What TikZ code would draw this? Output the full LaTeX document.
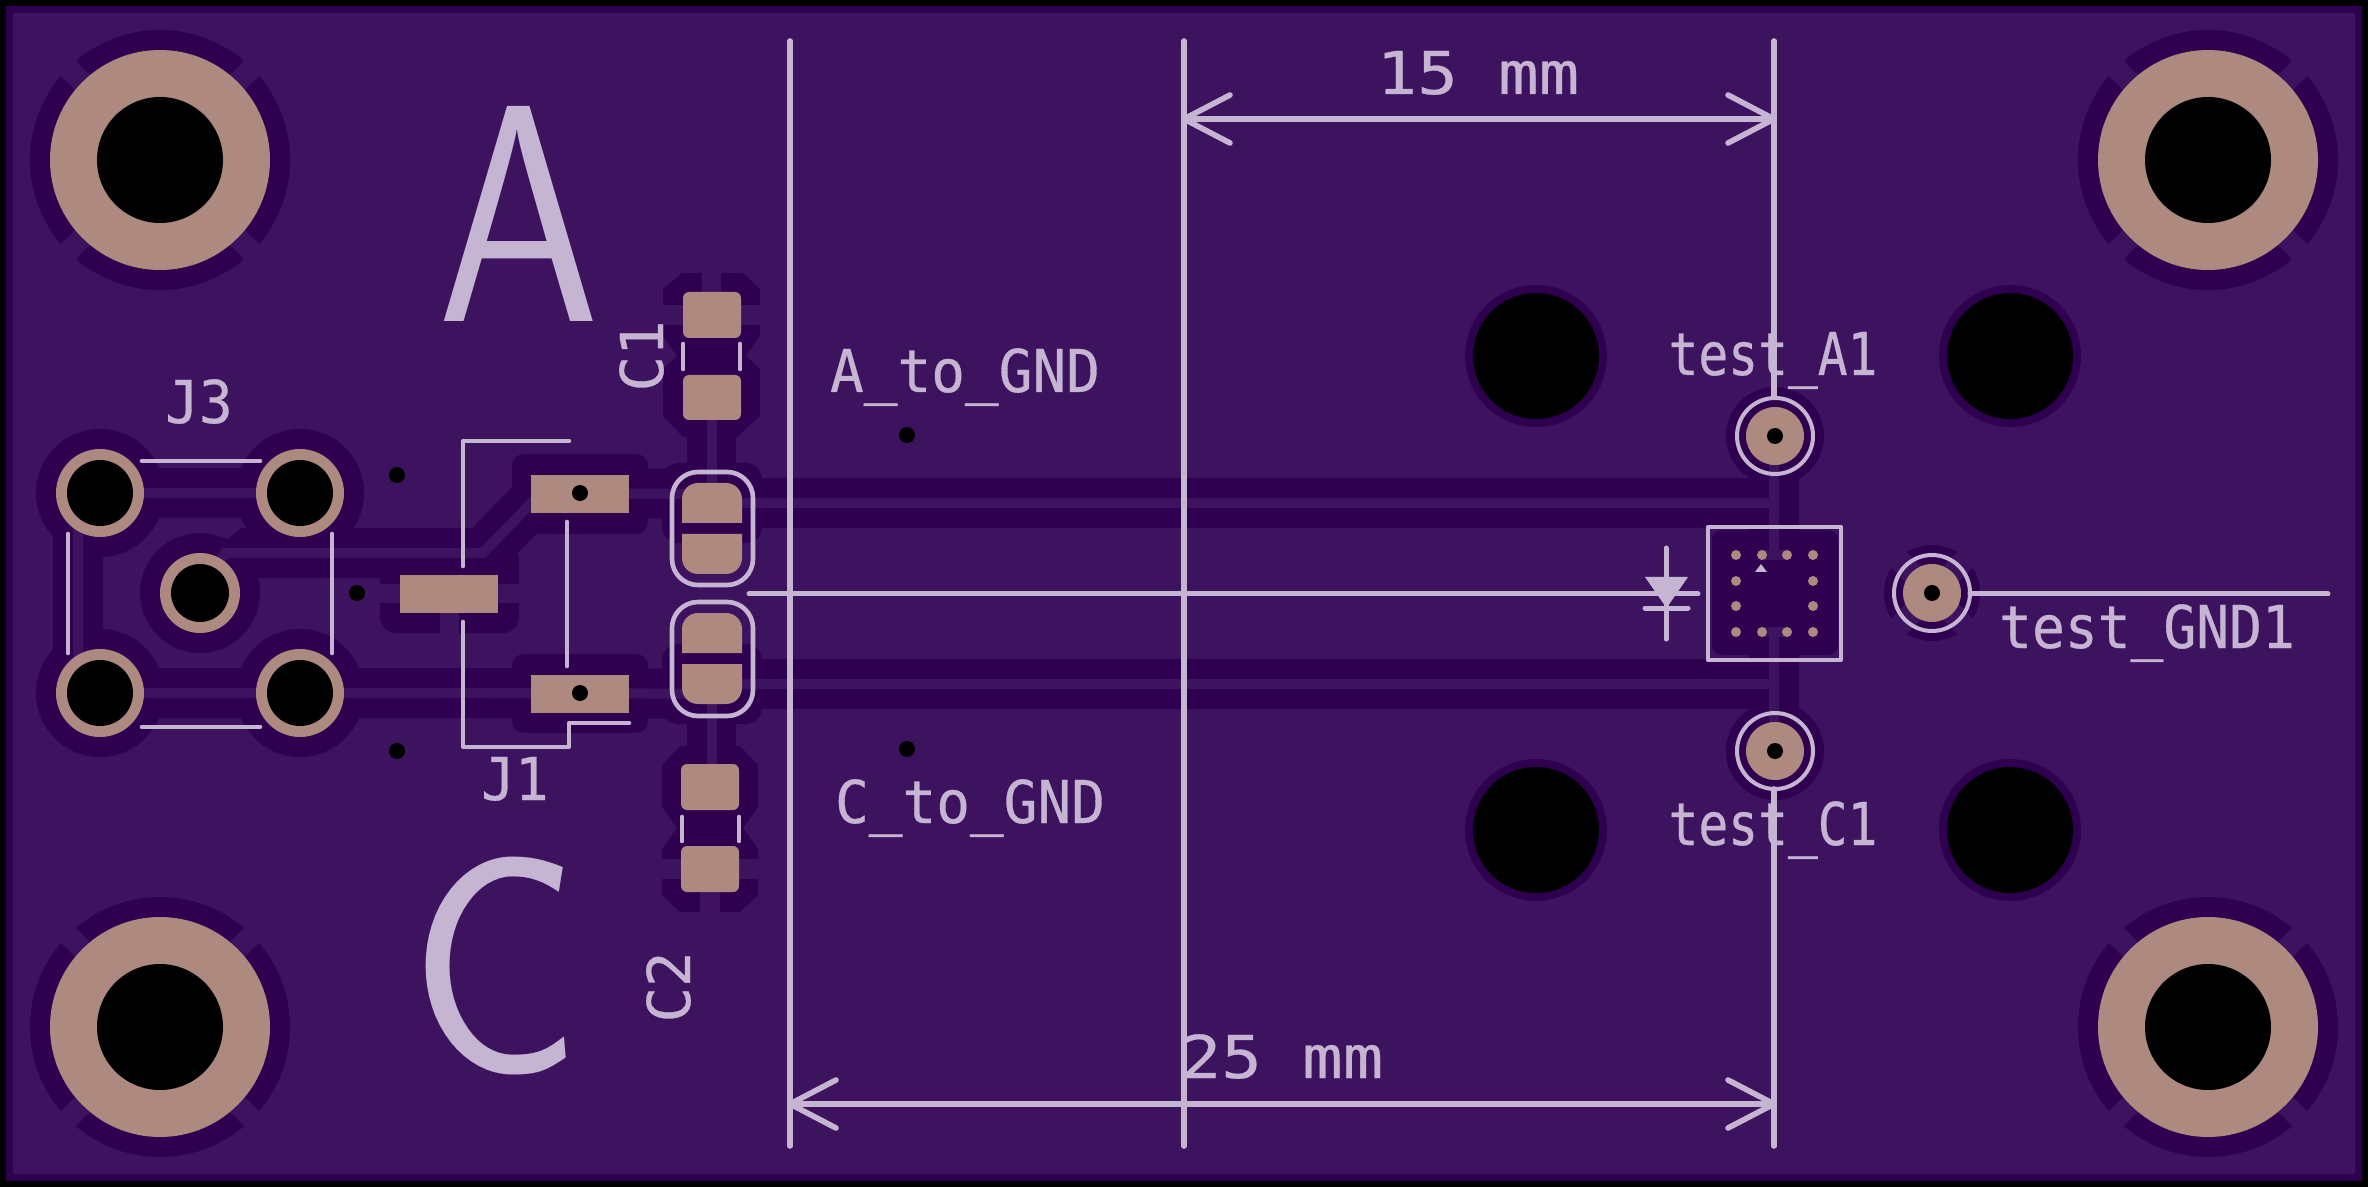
\documentclass[tikz,border=0pt]{standalone}
\usepackage{fontspec}
\newfontfamily\labt{DejaVu Sans Mono}[FakeStretch=0.84,FakeBold=0.5]
\newfontfamily\labn{DejaVu Sans Mono}[FakeStretch=0.95,FakeBold=0.5]
\newfontfamily\labg{DejaVu Sans Mono}[FakeStretch=0.925,FakeBold=0.5]
\newfontfamily\labr{DejaVu Sans Mono}[FakeStretch=1.0,FakeBold=0.5]
\newfontfamily\dimf{DejaVu Sans Mono}[FakeStretch=1.14,FakeBold=0.5]
\definecolor{mainc}{HTML}{3D1360}
\definecolor{darkc}{HTML}{300050}
\definecolor{padc}{HTML}{AE8980}
\definecolor{silkc}{HTML}{C5B5D3}
\tikzset{
  x=0.5pt,y=-0.5pt,
  band/.style={draw=darkc,line width=25pt,line join=miter},
  trace/.style={draw=mainc,line width=5pt},
  gapfill/.style={fill=mainc},
  silk/.style={draw=silkc,line width=2.3pt,line cap=round,line join=round},
  dimline/.style={draw=silkc,line width=2.8pt,line cap=round,line join=round},
  lbl/.style={text=silkc,anchor=base,inner sep=0pt},
  sz/.style={font=#1\fontsize{29.5}{30}\selectfont},
  biglbl/.style={text=silkc,anchor=base,inner sep=0pt,font=\sffamily\fontsize{155}{155}\selectfont,transform shape}
}
\begin{document}
\begin{tikzpicture}
\useasboundingbox (0,0) rectangle (2368,1187);
\fill[black] (0,0) rectangle (2368,1187);
\fill[darkc] (6,6) rectangle (2362,1181);
\fill[mainc,rounded corners=1pt] (13,13) rectangle (2355,1174);
% corner mounting pads: clearance with thermal gaps
\foreach \cx/\cy in {160/160,2208/160,160/1027,2208/1027}{
  \fill[darkc] (\cx,\cy) circle[radius=130];
  \draw[mainc,line width=10.5pt] (\cx,\cy) ++(45:140) -- ++(225:280);
  \draw[mainc,line width=10.5pt] (\cx,\cy) ++(135:140) -- ++(315:280);
}
% free mounting holes clearance
\foreach \cx/\cy in {1536/356,2010/356,1536/830,2010/830}{
  \fill[darkc] (\cx,\cy) circle[radius=71];
}
% J3 clearance
\foreach \cx/\cy in {100/493,300/493,100/693,300/693}{
  \fill[darkc] (\cx,\cy) circle[radius=64];
}
\fill[darkc] (200,593) circle[radius=60];
\path[band] (100,493) -- (300,493);
\path[band] (100,693) -- (580,693) -- (712,694);
\path[band] (100,493) -- (78,530) -- (78,660) -- (100,693);
\path[band] (200,593) -- (250,553) -- (483,553) -- (541,493) -- (712,494);
% J1 pad clearances
\fill[darkc,rounded corners=6pt] (512,454) rectangle (648,534);
\fill[darkc,rounded corners=6pt] (512,654) rectangle (648,733);
\fill[darkc,rounded corners=8pt] (380,545) rectangle (519,633);
\fill[gapfill] (378,584) rectangle (400,603);
\fill[gapfill] (498,584) rectangle (521,603);
\fill[gapfill] (440,613) rectangle (459,635);
% signal bands
\path[band] (712,503) -- (1774,503);
\path[band] (712,684) -- (1774,684);
\path[band] (1774,436) -- (1774,530);
\path[band] (1774,655) -- (1774,751);
% capacitor/diode clearances
\fill[darkc,rounded corners=8pt] (662,463) rectangle (762,543);
\fill[darkc,rounded corners=8pt] (662,644) rectangle (762,724);
\fill[darkc] (687,425) rectangle (736,490);
\fill[darkc] (687,700) rectangle (736,760);
\fill[darkc] (682,273) -- (743,273) -- (760,289) -- (760,336) -- (746,356) -- (760,369) -- (760,416) -- (737,437) -- (683,437) -- (663,416) -- (663,369) -- (677,356) -- (663,336) -- (663,289) -- cycle;
\fill[gapfill] (660,305) rectangle (683,325);
\fill[gapfill] (741,305) rectangle (763,325);
\fill[gapfill] (702,270) rectangle (721,292);
\fill[darkc] (680,746) -- (740,746) -- (758,765) -- (758,807) -- (743,828) -- (758,849) -- (758,895) -- (740,912) -- (680,912) -- (662,895) -- (662,849) -- (677,828) -- (662,807) -- (662,765) -- cycle;
\fill[gapfill] (660,859) rectangle (681,879);
\fill[gapfill] (739,859) rectangle (760,879);
\fill[gapfill] (700,891) rectangle (720,915);
% IC clearance
\fill[darkc,rounded corners=5pt] (1712,530) rectangle (1838,655);
% test pad clearances
\fill[darkc] (1775,436) circle[radius=49];
\fill[darkc] (1775,751) circle[radius=49];
\fill[darkc] (1932,593) circle[radius=48];
\draw[mainc,line width=11pt] (1932,593) ++(45:60) -- ++(225:120);
\draw[mainc,line width=11pt] (1932,593) ++(135:60) -- ++(315:120);
% traces
\draw[trace] (100,493) -- (300,493);
\draw[trace] (100,693) -- (580,693) -- (712,694);
\draw[trace] (100,493) -- (78,530) -- (78,660) -- (100,693);
\draw[trace] (200,593) -- (225,553) -- (483,553) -- (541,493) -- (712,494);
\draw[trace] (712,503) -- (1774,503);
\draw[trace] (712,684) -- (1774,684);
\draw[trace] (1774,436) -- (1774,555);
\draw[trace] (1762,555) -- (1787,555);
\draw[trace] (1774,751) -- (1774,632);
\draw[trace] (1762,632) -- (1787,632);
\draw[trace] (712,397) -- (712,490);
\draw[trace] (712,700) -- (712,787);
% pads
\foreach \cx/\cy in {100/493,300/493,100/693,300/693}{
  \fill[padc] (\cx,\cy) circle[radius=44];
  \fill[black] (\cx,\cy) circle[radius=33];
}
\fill[padc] (200,593) circle[radius=40];
\fill[black] (200,593) circle[radius=29];
\foreach \cx/\cy in {160/160,2208/160,160/1027,2208/1027}{
  \fill[padc] (\cx,\cy) circle[radius=110];
  \fill[black] (\cx,\cy) circle[radius=63];
}
\foreach \cx/\cy in {1536/356,2010/356,1536/830,2010/830}{
  \fill[black] (\cx,\cy) circle[radius=63];
}
\foreach \cx/\cy in {1775/436,1775/751,1932/593}{
  \fill[padc] (\cx,\cy) circle[radius=29];
  \fill[black] (\cx,\cy) circle[radius=8];
}
\fill[padc] (531,475) rectangle (629,513);
\fill[padc] (531,675) rectangle (629,713);
\fill[padc] (400,575) rectangle (498,613);
\foreach \cx/\cy in {580/493,580/693,397/475,357/593,397/751,907/435,907/749}{
  \fill[black] (\cx,\cy) circle[radius=8];
}
% C1, C2 pads
\fill[padc,rounded corners=3pt] (683,292) rectangle (741,338);
\fill[padc,rounded corners=3pt] (683,375) rectangle (741,420);
\fill[padc,rounded corners=3pt] (681,764) rectangle (739,810);
\fill[padc,rounded corners=3pt] (681,846) rectangle (739,892);
% centre package pads
\fill[padc,rounded corners=8pt] (682,523) -- (682,483) -- (742,483) -- (742,523);
\fill[padc,rounded corners=8pt] (682,534) -- (682,574) -- (742,574) -- (742,534);
\fill[padc,rounded corners=8pt] (682,653) -- (682,613) -- (742,613) -- (742,653);
\fill[padc,rounded corners=8pt] (682,664) -- (682,704) -- (742,704) -- (742,664);
% IC pads
\foreach \cx/\cy in {1736/555,1762/555,1787/555,1813/555,1736/581,1813/581,1736/606,1813/606,1736/632,1762/632,1787/632,1813/632}{
  \fill[padc] (\cx,\cy) circle[radius=5];
}
% silk
\fill[silkc] (1755,572) -- (1761,564) -- (1767,572) -- cycle;
\draw[silk] (1708,527) rectangle (1841,660);
\foreach \cx/\cy in {1775/436,1775/751,1932/593}{
  \draw[silk,line width=2pt] (\cx,\cy) circle[radius=38];
}
\draw[silk] (142,461) -- (260,461);
\draw[silk] (142,727) -- (260,727);
\draw[silk] (68,534) -- (68,653);
\draw[silk] (332,534) -- (332,653);
\draw[silk] (569,441) -- (463,441) -- (463,566);
\draw[silk] (463,622) -- (463,747) -- (569,747) -- (569,723) -- (629,723);
\draw[silk] (567,522) -- (567,666);
\draw[silk] (683,344) -- (683,369);
\draw[silk] (740,344) -- (740,369);
\draw[silk] (682,817) -- (682,841);
\draw[silk] (739,817) -- (739,841);
\draw[silk,rounded corners=13pt] (672,472) rectangle (753,585);
\draw[silk,rounded corners=13pt] (672,602) rectangle (753,716);
% dimensions
\draw[dimline] (790,41) -- (790,1146);
\draw[dimline] (1184,41) -- (1184,1146);
\draw[dimline] (1774,41) -- (1774,397);
\draw[dimline] (1774,789) -- (1774,1146);
\draw[dimline] (1184,119) -- (1774,119);
\draw[dimline] (1230,95) -- (1184,119) -- (1230,143);
\draw[dimline] (1728,95) -- (1774,119) -- (1728,143);
\draw[dimline] (790,1104) -- (1774,1104);
\draw[dimline] (836,1080) -- (790,1104) -- (836,1128);
\draw[dimline] (1728,1080) -- (1774,1104) -- (1728,1128);
% reference line and diode mark
\draw[silk,line width=2.5pt] (749,594) -- (1698,594);
\draw[silk,line width=2.5pt] (1970,594) -- (2328,594);
\draw[silk,line width=2.5pt] (1666,548) -- (1666,639);
\draw[silk,line width=2.5pt] (1645,608) -- (1688,608);
\fill[silkc] (1645,577) -- (1688,577) -- (1666.5,608) -- cycle;
% text
\node[lbl,sz=\labn] (tAG) at (965,392) {A\_to\_GND};
\node[lbl,sz=\labn] (tCG) at (970,823) {C\_to\_GND};
\node[lbl,sz=\labt] (tA1) at (1773,375) {test\_A1};
\node[lbl,sz=\labt] (tC1) at (1773,845) {test\_C1};
\node[lbl,sz=\labg] (tG1) at (2147,648) {test\_GND1};
\node[lbl,sz=\labn] (tJ3) at (199,423) {J3};
\node[lbl,sz=\labn] (tJ1) at (515,800) {J1};
\node[lbl,sz=\labr,rotate=90] (tC1r) at (663,356) {C1};
\node[lbl,sz=\labr,rotate=90] (tC2r) at (690,987) {C2};
\node[lbl,sz=\dimf] (t15) at (1478,94) {15 mm};
\node[lbl,sz=\dimf] (t25) at (1282,1078) {25 mm};
\node[biglbl,xscale=0.84] (tbigA) at (519,322) {A};
\node[biglbl,xscale=0.93] (tbigC) at (495,1072) {C};
\end{tikzpicture}
\end{document}
